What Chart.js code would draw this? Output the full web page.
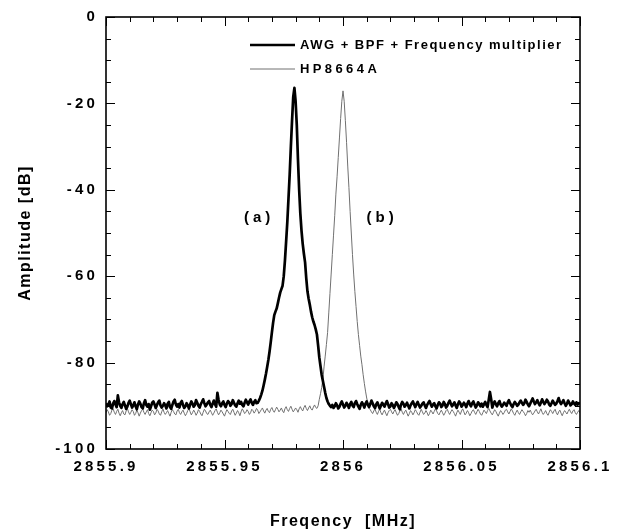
<!DOCTYPE html>
<html>
<head>
<meta charset="utf-8">
<script src="https://cdn.jsdelivr.net/npm/chart.js@4"></script>
<style>
  html, body { margin: 0; padding: 0; background: #fff; }
  canvas { display: block; }
</style>
</head>
<body>
<canvas id="grafico" width="623" height="531"></canvas>
<script>
// sweep: 2855.9 .. 2856.1 MHz, 401 samples
const freqStart = 2855.9;
const freqStep = 0.0005;

// (a) AWG + BPF + Frequency multiplier, dB
const awgAmp = [
  -89.4,-90.1,-89.8,-89.0,-90.4,-90.6,-89.5,-88.9,-89.7,-90.3,
  -87.6,-89.2,-90.0,-90.5,-89.6,-89.1,-89.9,-90.7,-90.2,-89.3,
  -88.8,-89.6,-90.4,-89.9,-89.2,-90.1,-90.8,-89.7,-89.0,-89.5,
  -90.3,-90.6,-89.4,-88.7,-89.8,-90.2,-89.6,-90.9,-90.1,-89.3,
  -89.0,-89.7,-90.5,-89.8,-89.2,-88.8,-89.9,-90.4,-90.0,-89.4,
  -89.9,-90.6,-89.5,-89.1,-90.3,-90.7,-89.8,-89.0,-88.6,-89.7,
  -90.2,-89.6,-90.4,-89.3,-88.9,-89.8,-90.5,-90.1,-89.4,-89.9,
  -90.6,-89.7,-89.0,-89.5,-90.2,-89.8,-88.7,-89.3,-90.0,-90.4,
  -89.6,-89.1,-88.5,-89.4,-90.1,-89.7,-89.2,-88.9,-89.8,-90.3,
  -89.5,-88.8,-89.6,-90.2,-87.0,-88.6,-89.7,-90.1,-89.4,-89.0,
  -89.8,-90.3,-89.5,-88.9,-89.2,-90.0,-89.6,-88.7,-89.3,-89.9,
  -90.2,-89.4,-88.8,-89.5,-89.1,-89.8,-90.1,-89.3,-88.6,-89.2,
  -89.7,-89.0,-88.5,-89.3,-89.8,-89.1,-88.7,-89.4,
  // peak
  -89.3,-88.8,-88.2,-87.4,-86.5,-85.3,-84.0,-82.6,-81.0,-79.4,
  -77.5,-75.3,-73.0,-70.8,-69.0,-68.2,-67.5,-66.3,-65.0,-63.8,
  -63.0,-62.2,-60.0,-56.4,-52.0,-47.5,-42.0,-36.5,-30.0,-24.0,
  -18.5,-16.4,-19.5,-25.0,-33.0,-40.0,-45.5,-49.5,-52.5,-54.8,
  -56.8,-60.5,-63.5,-65.2,-66.6,-68.2,-69.5,-70.5,-71.3,-72.3,
  -73.5,-76.0,-78.8,-80.8,-82.8,-84.2,-85.6,-87.0,-88.2,-89.0,
  -89.6,-90.0,
  -90.3,-89.8,-90.5,-90.1,-89.4,-89.9,-90.6,-90.2,-89.5,-89.0,
  -89.7,-90.4,-90.0,-89.3,-89.8,-90.5,-89.6,-89.1,-89.9,-90.3,
  -89.4,-88.9,-89.6,-90.2,-90.7,-89.8,-89.2,-89.7,-90.4,-89.5,
  -89.0,-89.8,-90.3,-89.6,-88.8,-89.4,-90.1,-90.5,-89.7,-89.2,
  -89.9,-90.6,-90.0,-89.3,-89.7,-90.2,-89.5,-88.9,-89.6,-90.4,
  -90.1,-89.4,-89.8,-90.5,-89.9,-89.2,-89.6,-90.3,-90.8,-89.7,
  -89.1,-89.5,-90.2,-89.8,-89.3,-90.0,-90.6,-89.9,-89.4,-89.0,
  -89.7,-90.3,-89.6,-89.1,-89.8,-90.4,-90.0,-89.5,-89.2,-89.9,
  -90.5,-89.8,-89.3,-88.9,-89.6,-90.2,-89.7,-89.4,-90.1,-90.6,
  -89.8,-89.2,-89.5,-90.3,-89.9,-89.1,-89.6,-90.4,-90.0,-89.3,
  -88.8,-89.5,-90.1,-89.7,-89.2,-89.9,-90.5,-89.6,-89.0,-89.4,
  -90.2,-89.8,-89.3,-89.7,-90.3,-89.5,-88.9,-89.6,-90.1,-89.4,
  -89.0,-89.7,-90.4,-89.9,-89.2,-89.6,-90.1,-89.5,-90.2,-89.6,
  -89.1,-89.8,-90.3,-88.6,-86.8,-88.4,-90.4,-89.5,-89.0,-89.6,
  -90.1,-89.4,-88.9,-89.7,-90.2,-89.8,-89.3,-89.6,-90.0,-89.2,
  -88.7,-89.4,-89.9,-90.3,-89.6,-89.1,-89.5,-90.0,-89.7,-89.2,
  -88.8,-89.3,-89.8,-89.4,-88.6,-89.1,-89.7,-90.1,-89.5,-88.9,
  -88.3,-89.0,-89.6,-89.2,-88.7,-89.4,-89.9,-89.3,-88.5,-89.1,
  -89.6,-89.2,-88.6,-89.0,-89.7,-90.0,-89.4,-88.8,-89.3,-89.8,
  -89.5,-88.9,-88.2,-89.1,-89.6,-89.2,-88.7,-89.4,-90.0,-89.5,
  -88.8,-89.3,-89.9,-89.6,-89.0,-89.5,-89.8,-89.2,-89.7,-89.4,
  -89.6
];

// (b) HP8664A, dB
const hpAmp = [
  -91.6,-90.9,-91.4,-92.2,-91.8,-91.0,-90.7,-91.5,-92.0,-91.3,
  -90.8,-91.7,-92.3,-91.6,-91.1,-91.9,-92.1,-91.2,-90.6,-91.4,
  -92.0,-91.5,-90.9,-91.3,-92.2,-91.8,-91.0,-91.6,-92.4,-91.7,
  -91.1,-90.8,-91.5,-92.0,-91.4,-90.9,-91.8,-92.3,-91.6,-91.0,
  -91.3,-92.1,-91.7,-90.8,-91.2,-91.9,-92.2,-91.4,-90.7,-91.5,
  -92.0,-91.6,-91.1,-91.8,-92.4,-91.5,-90.9,-91.3,-91.9,-92.1,
  -91.2,-90.8,-91.6,-92.0,-91.4,-91.0,-91.7,-92.3,-91.8,-91.1,
  -90.6,-91.4,-92.1,-91.6,-91.0,-91.5,-92.2,-91.7,-90.9,-91.3,
  -91.9,-92.3,-91.5,-90.8,-91.2,-91.8,-92.0,-91.4,-91.0,-91.6,
  -92.2,-91.7,-91.1,-90.7,-91.5,-92.1,-91.6,-91.0,-91.4,-91.9,
  -92.4,-91.6,-90.9,-91.3,-91.8,-92.0,-91.2,-90.8,-91.5,-92.2,
  -91.7,-91.1,-91.6,-92.3,-91.4,-90.7,-91.2,-91.8,-91.5,-90.9,
  -91.3,-92.0,-91.6,-90.8,-91.1,-91.7,-91.3,-90.6,-91.0,-91.8,
  -91.4,-90.9,-90.5,-91.2,-91.7,-91.0,-90.6,-91.3,-91.6,-90.8,
  -90.4,-91.1,-91.5,-90.9,-90.3,-90.8,-91.4,-91.0,-90.5,-91.2,
  -91.6,-90.7,-90.2,-90.9,-91.3,-90.6,-90.1,-90.8,-91.4,-91.0,
  -90.5,-90.9,-91.5,-90.7,-90.2,-90.8,-91.2,-90.4,-89.9,-90.6,
  -91.1,-90.5,-90.0,-90.7,-91.0,-90.3,-89.8,-90.4,
  // peak
  -90.6,-90.0,-88.5,-87.2,-85.8,-84.0,-81.0,-78.5,-75.8,-73.0,
  -68.5,-64.0,-59.5,-55.0,-50.5,-46.0,-41.0,-37.0,-32.5,-28.0,
  -23.5,-19.5,-17.1,-19.5,-24.0,-29.0,-34.5,-39.5,-45.0,-50.0,
  -55.0,-59.5,-63.5,-67.0,-70.5,-73.5,-76.0,-78.5,-80.5,-82.8,
  -84.8,-86.6,-88.2,-89.4,-90.6,
  -90.9,-91.4,-91.8,-91.2,-90.7,-91.5,-92.0,-91.3,-90.8,-91.6,
  -92.1,-91.5,-91.0,-91.7,-92.3,-91.6,-91.1,-90.8,-91.4,-91.9,
  -91.3,-90.9,-91.6,-92.2,-91.8,-91.2,-90.7,-91.5,-92.0,-91.4,
  -91.0,-91.7,-92.4,-91.8,-91.1,-91.5,-92.1,-91.6,-90.9,-91.3,
  -91.9,-92.2,-91.5,-90.8,-91.4,-92.0,-91.7,-91.1,-91.6,-92.3,
  -91.8,-91.0,-91.4,-91.9,-91.3,-90.7,-91.2,-91.8,-92.1,-91.5,
  -91.0,-91.6,-92.2,-91.7,-91.1,-90.8,-91.5,-92.0,-91.4,-90.9,
  -91.3,-91.8,-92.4,-91.6,-91.0,-91.5,-92.0,-91.2,-90.7,-91.4,
  -92.1,-91.7,-91.1,-91.6,-92.3,-91.8,-91.2,-90.9,-91.5,-92.0,
  -91.4,-90.8,-91.3,-91.9,-92.2,-91.6,-91.0,-91.4,-91.8,-91.1,
  -90.6,-91.2,-91.7,-92.1,-91.5,-90.9,-91.3,-91.9,-92.4,-91.7,
  -91.1,-91.5,-92.0,-91.6,-91.0,-90.8,-91.4,-91.9,-91.3,-90.7,
  -91.2,-91.8,-92.2,-91.5,-91.0,-91.6,-92.0,-91.4,-90.9,-91.3,
  -91.7,-92.3,-91.8,-91.1,-91.5,-91.0,-91.6,-92.1,-91.7,-91.2,
  -90.8,-91.4,-91.9,-91.3,-90.7,-91.5,-92.0,-91.6,-91.1,-91.8,
  -92.2,-91.5,-90.9,-91.3,-91.8,-91.2,-90.8,-91.6,-92.1,-91.4,
  -91.0,-91.7,-92.3,-91.6,-91.1,-91.5,-91.9,-91.3,-90.8,-91.4,
  -91.8,-91.2,-90.9,-91.6,-92.0,-91.5,-91.1,-91.7
];

const seriesNames = ["AWG + BPF + Frequency multiplier", "HP8664A"];
const xTickVals = [2855.9, 2855.95, 2856, 2856.05, 2856.1];
const xTickLabels = ["2855.9", "2855.95", "2856", "2856.05", "2856.1"];
const yTickVals = [0, -20, -40, -60, -80, -100];
const yTickLabels = ["0", "-20", "-40", "-60", "-80", "-100"];
const noteTexts = ["(a)", "(b)"];
const noteX = [2855.9646, 2856.0165];
const noteY = [-46.4, -46.4];

const FONT = "'Liberation Sans', Arial, sans-serif";
const canvas = document.querySelector("#grafico");

const toPoints = (arr) => arr.map((v, i) => ({ x: freqStart + i * freqStep, y: v }));

// frame with inward ticks on all four sides
const frame = {
  id: "frame",
  afterDatasetsDraw(chart) {
    const { ctx, chartArea: a, scales } = chart;
    ctx.save();
    ctx.strokeStyle = "#000";
    ctx.lineWidth = 1;
    ctx.beginPath();
    for (let k = 0; k <= 20; k++) {
      const v = 2855.9 + k * 0.01;
      const px = Math.round(scales.x.getPixelForValue(v)) + 0.5;
      const len = k % 5 === 0 ? 9 : 5;
      ctx.moveTo(px, a.bottom); ctx.lineTo(px, a.bottom - len);
      ctx.moveTo(px, a.top); ctx.lineTo(px, a.top + len);
    }
    for (let v = 0; v >= -100; v -= 5) {
      const py = Math.round(scales.y.getPixelForValue(v)) + 0.5;
      const len = v % 20 === 0 ? 9 : 5;
      ctx.moveTo(a.left, py); ctx.lineTo(a.left + len, py);
      ctx.moveTo(a.right, py); ctx.lineTo(a.right - len, py);
    }
    ctx.stroke();
    ctx.lineWidth = 1.6;
    ctx.strokeRect(a.left, a.top, a.right - a.left, a.bottom - a.top);
    ctx.restore();
    // tick labels are drawn after this (z = 1), with wide tracking
    ctx.letterSpacing = "3.2px";
  }
};

const extras = {
  id: "extras",
  beforeDraw(chart) {
    chart.ctx.letterSpacing = "1.5px"; // axis titles
  },
  afterDraw(chart) {
    const { ctx, chartArea: a, scales } = chart;
    const spacing = ["1.5px", "3.4px"];
    const rows = [a.top + 28, a.top + 52];
    chart.data.datasets.forEach((ds, i) => {
      ctx.save();
      ctx.strokeStyle = ds.borderColor;
      ctx.lineWidth = ds.borderWidth;
      ctx.beginPath();
      ctx.moveTo(a.left + 144, rows[i]);
      ctx.lineTo(a.left + 189, rows[i]);
      ctx.stroke();
      ctx.letterSpacing = spacing[i];
      ctx.font = "bold 13px " + FONT;
      ctx.fillStyle = "#000";
      ctx.textBaseline = "middle";
      ctx.fillText(ds.label, a.left + 194, rows[i]);
      ctx.restore();
    });
    ctx.save();
    ctx.letterSpacing = "4px";
    ctx.font = "bold 15px " + FONT;
    ctx.fillStyle = "#000";
    ctx.textAlign = "center";
    ctx.textBaseline = "middle";
    noteTexts.forEach((t, i) => {
      ctx.fillText(t, scales.x.getPixelForValue(noteX[i]), scales.y.getPixelForValue(noteY[i]));
    });
    ctx.restore();
    ctx.letterSpacing = "0px";
  }
};

const config = {
  type: "line",
  data: {
    datasets: [
      {
        label: seriesNames[0],
        data: toPoints(awgAmp),
        borderColor: "#000",
        borderWidth: 2.7,
        borderJoinStyle: "round",
        pointRadius: 0,
        tension: 0
      },
      {
        label: seriesNames[1],
        data: toPoints(hpAmp),
        borderColor: "#707070",
        borderWidth: 1,
        borderJoinStyle: "round",
        pointRadius: 0,
        tension: 0
      }
    ]
  },
  options: {
    responsive: false,
    animation: false,
    devicePixelRatio: 1,
    layout: { padding: { top: 16, right: 43, left: 0, bottom: 0 } },
    plugins: { legend: { display: false }, tooltip: { enabled: false } },
    scales: {
      x: {
        type: "linear",
        min: 2855.9,
        max: 2856.1,
        afterBuildTicks: (s) => { s.ticks = xTickVals.map((v) => ({ value: v })); },
        afterFit: (s) => { s.height = 82; },
        grid: { display: false, drawTicks: false },
        border: { display: false },
        ticks: {
          z: 1,
          color: "#000",
          padding: 9,
          maxRotation: 0,
          autoSkip: false,
          font: { family: FONT, size: 15, weight: "bold" },
          callback: (v, i) => xTickLabels[i]
        },
        title: {
          display: true,
          text: "Freqency  [MHz]",
          color: "#000",
          font: { family: FONT, size: 16, weight: "bold" },
          padding: { top: 0, bottom: 0 }
        }
      },
      y: {
        type: "linear",
        min: -100,
        max: 0,
        afterBuildTicks: (s) => { s.ticks = yTickVals.map((v) => ({ value: v })); },
        afterFit: (s) => { s.width = 106; },
        grid: { display: false, drawTicks: false },
        border: { display: false },
        ticks: {
          z: 1,
          color: "#000",
          padding: 8,
          autoSkip: false,
          font: { family: FONT, size: 15, weight: "bold" },
          callback: (v, i) => yTickLabels[i]
        },
        title: {
          display: true,
          text: "Amplitude [dB]",
          color: "#000",
          font: { family: FONT, size: 16, weight: "bold" },
          padding: { top: 16, bottom: 0 }
        }
      }
    }
  },
  plugins: [frame, extras]
};

const myChart = new Chart(canvas, config);
</script>
</body>
</html>
